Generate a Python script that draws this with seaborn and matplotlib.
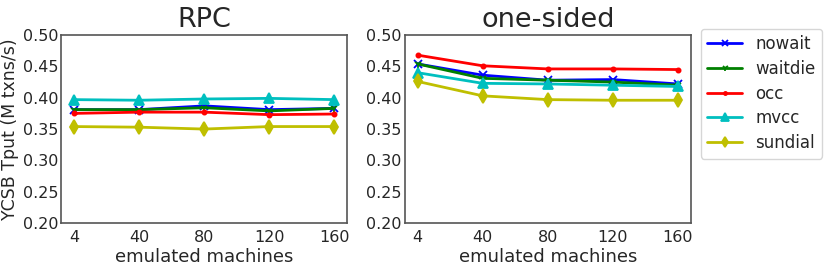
import numpy as np
import pandas as pd
import matplotlib
matplotlib.use('Agg')
import matplotlib.pyplot as plt
import seaborn as sns

machines = ['4', '40', '80', '120', '160']
protocols = ['nowait', 'waitdie', 'occ', 'mvcc', 'sundial']

# RPC throughput (M txns/s)
rpc_nowait = [0.381, 0.381, 0.387, 0.381, 0.383]
rpc_waitdie = [0.381, 0.381, 0.384, 0.379, 0.383]
rpc_occ = [0.375, 0.377, 0.377, 0.373, 0.374]
rpc_mvcc = [0.397, 0.396, 0.398, 0.399, 0.397]
rpc_sundial = [0.354, 0.353, 0.350, 0.354, 0.354]

# one-sided throughput (M txns/s)
os_nowait = [0.454, 0.436, 0.428, 0.429, 0.422]
os_waitdie = [0.454, 0.431, 0.428, 0.425, 0.420]
os_occ = [0.468, 0.451, 0.446, 0.446, 0.445]
os_mvcc = [0.440, 0.423, 0.422, 0.420, 0.418]
os_sundial = [0.426, 0.403, 0.397, 0.396, 0.396]

colors = {'nowait': 'b', 'waitdie': 'g', 'occ': 'r', 'mvcc': 'c', 'sundial': 'y'}
markers = {'nowait': 'x', 'waitdie': '1', 'occ': '.', 'mvcc': '^', 'sundial': 'd'}
msizes = {'nowait': 6, 'waitdie': 6, 'occ': 6, 'mvcc': 7, 'sundial': 7}

rpc = dict(zip(protocols, [rpc_nowait, rpc_waitdie, rpc_occ, rpc_mvcc, rpc_sundial]))
onesided = dict(zip(protocols, [os_nowait, os_waitdie, os_occ, os_mvcc, os_sundial]))

sns.set_style('white')
plt.rcParams['font.family'] = ['DejaVu Sans']

fig, axes = plt.subplots(1, 2, figsize=(8.3, 2.7), dpi=100)
fig.subplots_adjust(left=0.0735, right=0.8325, top=0.87, bottom=0.174, wspace=0.2)

pos = np.arange(len(machines))
for ax, data, title in zip(axes, [rpc, onesided], ['RPC', 'one-sided']):
    for p in protocols:
        sns.lineplot(x=pos, y=data[p], ax=ax, color=colors[p], marker=markers[p],
                     markersize=msizes[p], markeredgecolor=colors[p], markeredgewidth=1.3,
                     linewidth=2, label=p, legend=False)
    ax.set_title(title, fontsize=19.5, pad=6)
    ax.set_xticks(pos)
    ax.set_xticklabels(machines)
    ax.set_xlim(-0.2, 4.2)
    ax.set_ylim(0.2, 0.5)
    ax.set_yticks([0.2, 0.25, 0.3, 0.35, 0.4, 0.45, 0.5])
    ax.set_yticklabels(['0.20', '0.25', '0.30', '0.35', '0.40', '0.45', '0.50'])
    ax.tick_params(axis='y', direction='in', length=4, width=1, color='#555555', labelsize=11.5, pad=2)
    ax.tick_params(axis='x', length=0, labelsize=11.5, pad=5)
    ax.set_xlabel('emulated machines', fontsize=13, labelpad=2)
    for s in ax.spines.values():
        s.set_color('#555555')
        s.set_linewidth(1.2)

axes[0].set_ylabel('YCSB Tput (M txns/s)', fontsize=12.5, labelpad=3)

handles, labels = axes[1].get_legend_handles_labels()
fig.legend(handles, labels, loc='upper left', bbox_to_anchor=(0.834, 0.925),
           fontsize=12, frameon=True, handlelength=2.1, handletextpad=0.8,
           borderpad=0.4, labelspacing=0.4, markerscale=0.75)

plt.savefig('out.png', dpi=100)
